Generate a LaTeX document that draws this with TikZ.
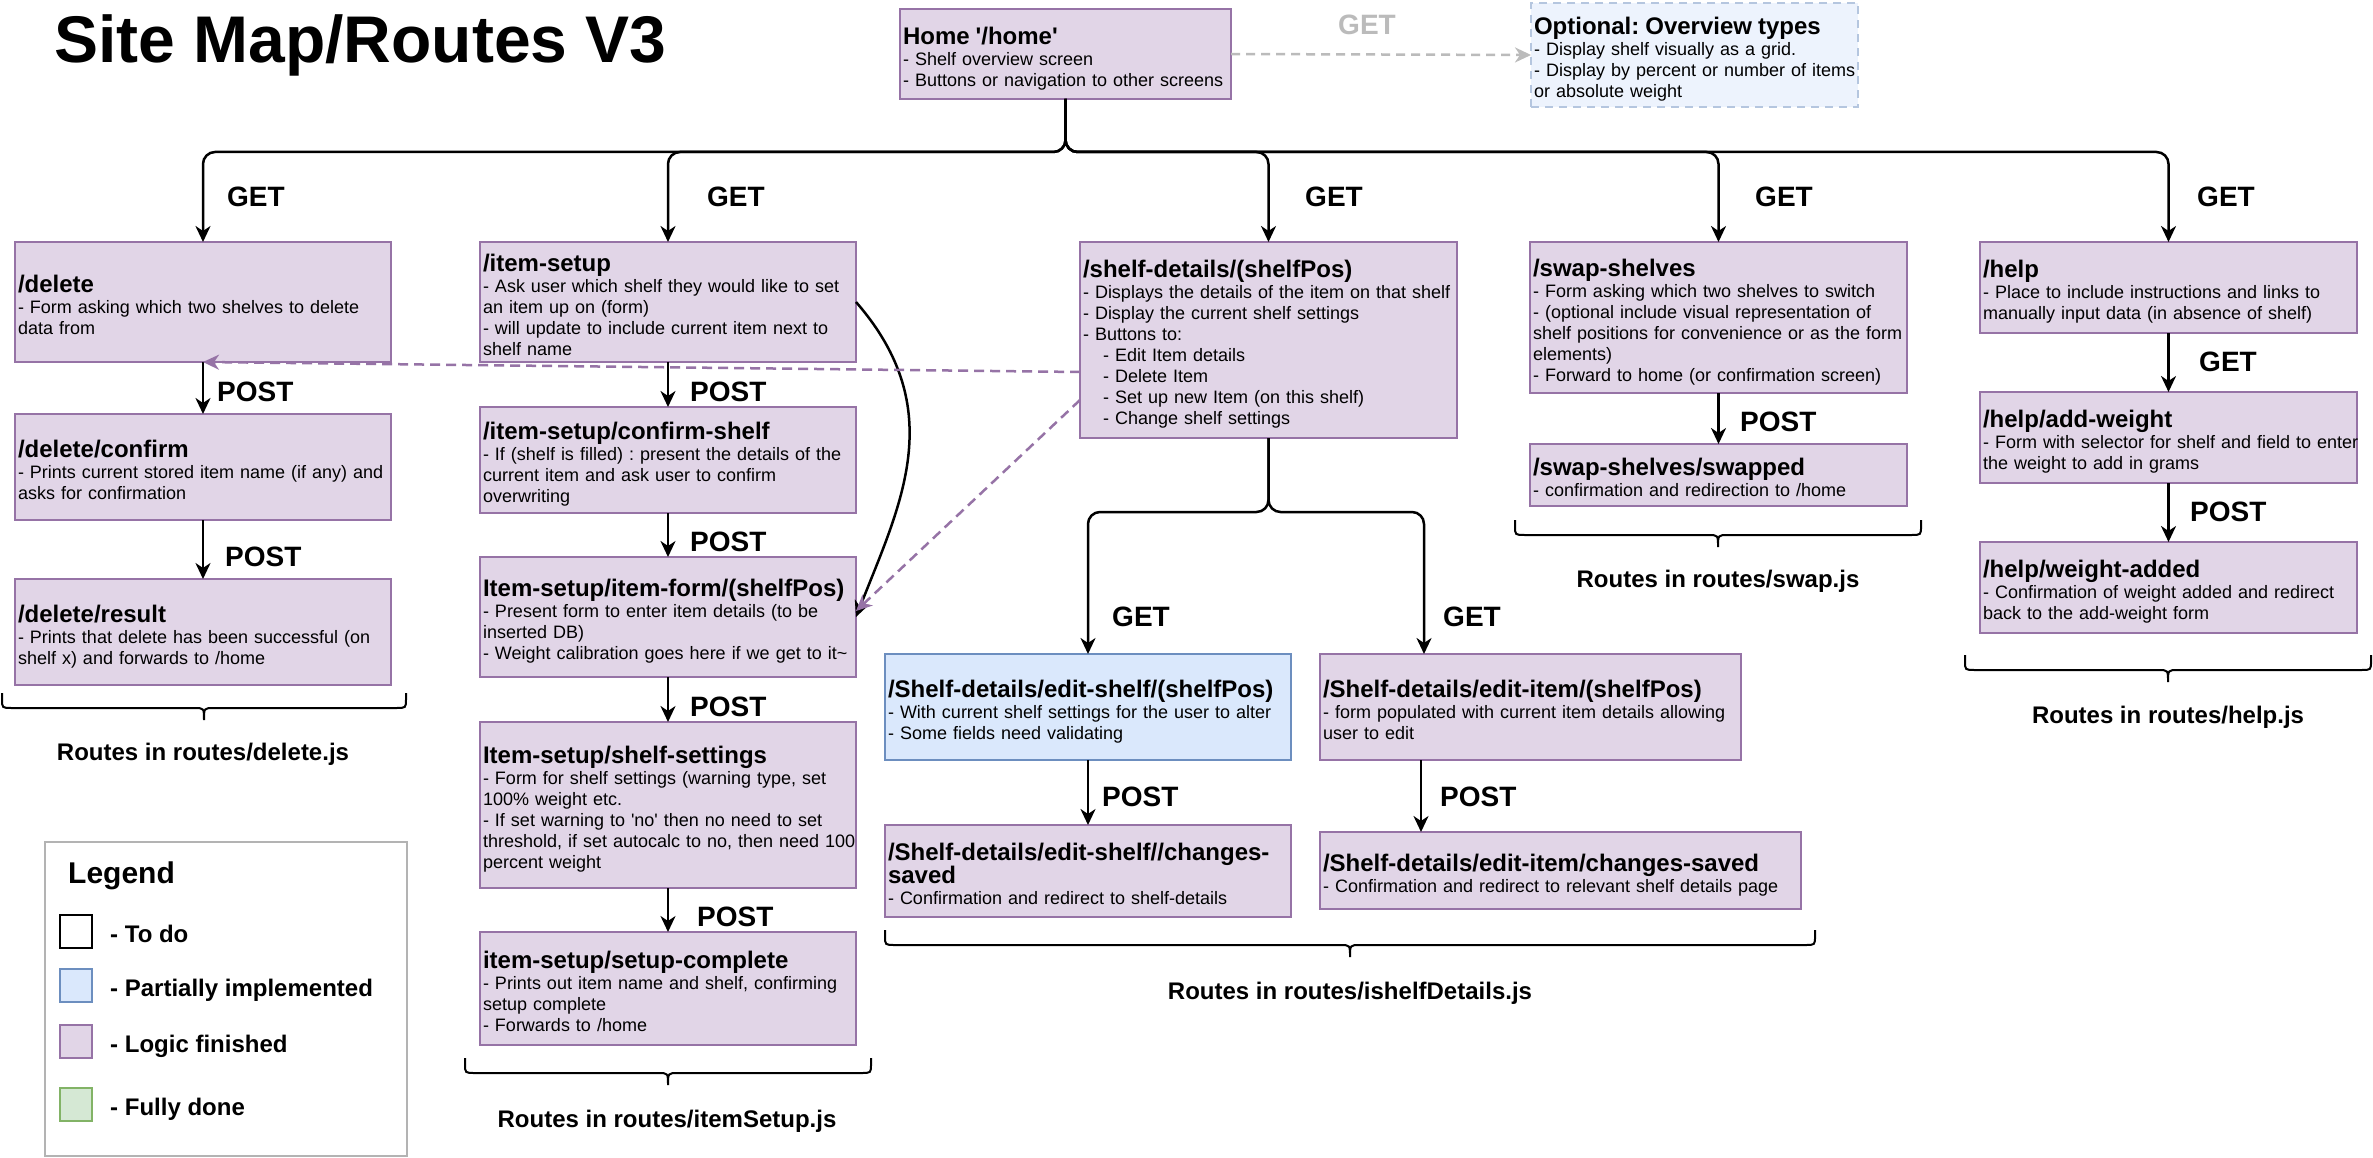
\documentclass[tikz,border=0pt]{standalone}
\usepackage{fontspec}
\setmainfont{Liberation Sans}[Ligatures=TeXOff]
\usetikzlibrary{arrows.meta}
\frenchspacing
\definecolor{pfill}{HTML}{E1D5E7}
\definecolor{pline}{HTML}{9673A6}
\definecolor{bfill}{HTML}{DAE8FC}
\definecolor{bline}{HTML}{6C8EBF}
\definecolor{gfill}{HTML}{D5E8D4}
\definecolor{gline}{HTML}{82B366}
\definecolor{ofill}{HTML}{EDF3FD}
\definecolor{oline}{HTML}{B5C6DF}
\definecolor{garrow}{HTML}{BBBBBB}
\definecolor{lgline}{HTML}{B3B3B3}
\newcommand{\bodyf}{\fontsize{18}{21}\selectfont}
\newcommand{\ttlf}{\fontsize{24}{27}\selectfont\bfseries}
\newcommand{\lblf}{\fontsize{28}{32}\selectfont\bfseries}
\newcommand{\rbx}[2]{\noindent\frenchspacing\begin{tabular}{@{}l@{}}\rule{0pt}{29pt}\ttlf #1\\ #2\end{tabular}}
\newcommand{\rbrc}[3]{%
  \draw[brc] (#1,#3) -- (#1,#3+6) .. controls (#1,#3+15) .. (#1+10,#3+15)
   -- ({(#1+#2)/2-10},#3+15) .. controls ({(#1+#2)/2},#3+15) .. ({(#1+#2)/2},#3+27)
   .. controls ({(#1+#2)/2},#3+15) .. ({(#1+#2)/2+10},#3+15)
   -- (#2-10,#3+15) .. controls (#2,#3+15) .. (#2,#3+6) -- (#2,#3);}
\tikzset{
 rbox/.style={draw=pline, fill=pfill, line width=2.5pt, anchor=north west, inner xsep=3pt, inner ysep=0pt, outer sep=0pt, align=left, font=\bodyf},
 bbox/.style={rbox, draw=bline, fill=bfill},
 conn/.style={draw=black, line width=2.5pt, rounded corners=12pt, -{Stealth[length=16pt,width=15pt,inset=5pt]}},
 dconn/.style={draw=pline, line width=2.5pt, dash pattern=on 10pt off 6pt, -{Stealth[length=16pt,width=15pt,inset=5pt]}},
 lbl/.style={anchor=west, inner sep=0pt, font=\lblf},
 brc/.style={draw=black, line width=2pt},
 rtl/.style={anchor=base, inner sep=0pt, font=\ttlf},
 swatch/.style={line width=2.5pt, anchor=north west, minimum width=32pt, minimum height=33pt, inner sep=0pt, outer sep=0pt},
 lgt/.style={anchor=base west, inner sep=0pt, font=\ttlf},
}
\begin{document}
\begin{tikzpicture}[x=1pt,y=-1pt]
\useasboundingbox (0,0) rectangle (2373,1158);
\fill[white] (0,0) rectangle (2373,1158);

\node[anchor=base west, inner sep=0pt, font=\fontsize{66}{70}\selectfont\bfseries] (title) at (54,63) {Site Map/Routes V3};

% boxes
\node[rbox, text width=325pt, minimum height=90pt] (home) at (900,9) {\rbx{Home '/home'}{- Shelf overview screen\\- Buttons or navigation to other screens}};
\node[rbox, draw=oline, fill=ofill, dash pattern=on 8pt off 6pt, text width=321pt, minimum height=104pt] (opt) at (1531,3) {\rbx{Optional: Overview types}{- Display shelf visually as a grid.\\- Display by percent or number of items\\or absolute weight}};

\node[rbox, text width=370pt, minimum height=120pt] (del) at (15,242) {\rbx{/delete}{- Form asking which two shelves to delete\\data from}};
\node[rbox, text width=370pt, minimum height=106pt] (delc) at (15,414) {\rbx{/delete/confirm}{- Prints current stored item name (if any) and\\asks for confirmation}};
\node[rbox, text width=370pt, minimum height=106pt] (delr) at (15,579) {\rbx{/delete/result}{- Prints that delete has been successful (on\\shelf x) and forwards to /home}};

\node[rbox, text width=370pt, minimum height=120pt] (is) at (480,242) {\rbx{/item-setup}{- Ask user which shelf they would like to set\\an item up on (form)\\- will update to include current item next to\\shelf name}};
\node[rbox, text width=370pt, minimum height=106pt] (isc) at (480,407) {\rbx{/item-setup/confirm-shelf}{- If (shelf is filled) : present the details of the\\current item and ask user to confirm\\overwriting}};
\node[rbox, text width=370pt, minimum height=120pt] (isf) at (480,557) {\rbx{Item-setup/item-form/(shelfPos)}{- Present form to enter item details (to be\\inserted DB)\\- Weight calibration goes here if we get to it\textasciitilde}};
\node[rbox, text width=370pt, minimum height=166pt] (iss) at (480,722) {\rbx{Item-setup/shelf-settings}{- Form for shelf settings (warning type, set\\100\% weight etc.\\- If set warning to 'no' then no need to set\\threshold, if set autocalc to no, then need 100\\percent weight}};
\node[rbox, text width=370pt, minimum height=113pt] (isd) at (480,932) {\rbx{item-setup/setup-complete}{- Prints out item name and shelf, confirming\\setup complete\\- Forwards to /home}};

\node[rbox, text width=371pt, minimum height=196pt] (sd) at (1080,242) {\rbx{/shelf-details/(shelfPos)}{- Displays the details of the item on that shelf\\- Display the current shelf settings\\- Buttons to:\\\hspace*{20pt}- Edit Item details\\\hspace*{20pt}- Delete Item\\\hspace*{20pt}- Set up new Item (on this shelf)\\\hspace*{20pt}- Change shelf settings}};
\node[bbox, text width=400pt, minimum height=106pt] (es) at (885,654) {\rbx{/Shelf-details/edit-shelf/(shelfPos)}{- With current shelf settings for the user to alter\\- Some fields need validating}};
\node[rbox, text width=415pt, minimum height=106pt] (ei) at (1320,654) {\rbx{/Shelf-details/edit-item/(shelfPos)}{- form populated with current item details allowing\\user to edit}};
\node[rbox, text width=400pt, minimum height=92pt] (esc) at (885,825) {\rbx{/Shelf-details/edit-shelf//changes-\\\ttlf saved}{- Confirmation and redirect to shelf-details}};
\node[rbox, text width=475pt, minimum height=77pt] (eic) at (1320,832) {\rbx{/Shelf-details/edit-item/changes-saved}{- Confirmation and redirect to relevant shelf details page}};

\node[rbox, text width=371pt, minimum height=151pt] (sw) at (1530,242) {\rbx{/swap-shelves}{- Form asking which two shelves to switch\\- (optional include visual representation of\\shelf positions for convenience or as the form\\elements)\\- Forward to home (or confirmation screen)}};
\node[rbox, text width=371pt, minimum height=62pt] (sws) at (1530,444) {\rbx{/swap-shelves/swapped}{- confirmation and redirection to /home}};

\node[rbox, text width=371pt, minimum height=91pt] (help) at (1980,242) {\rbx{/help}{- Place to include instructions and links to\\manually input data (in absence of shelf)}};
\node[rbox, text width=371pt, minimum height=91pt] (hadd) at (1980,392) {\rbx{/help/add-weight}{- Form with selector for shelf and field to enter\\the weight to add in grams}};
\node[rbox, text width=371pt, minimum height=91pt] (hwa) at (1980,542) {\rbx{/help/weight-added}{- Confirmation of weight added and redirect\\back to the add-weight form}};

% tree from home
\coordinate (bus) at (0,152);
\draw[conn] (home.south) -- (home.south |- bus) -| (del.north);
\draw[conn] (home.south) -- (home.south |- bus) -| (is.north);
\draw[conn] (home.south) -- (home.south |- bus) -| (sd.north);
\draw[conn] (home.south) -- (home.south |- bus) -| (sw.north);
\draw[conn] (home.south) -- (home.south |- bus) -| (help.north);
\node[lbl] (g1) at (227,197) {GET};
\node[lbl] (g2) at (707,197) {GET};
\node[lbl] (g3) at (1305,197) {GET};
\node[lbl] (g4) at (1755,197) {GET};
\node[lbl] (g5) at (2197,197) {GET};

% optional
\draw[draw=garrow, line width=2.5pt, dash pattern=on 9pt off 6pt, -{Stealth[length=16pt,width=15pt,inset=5pt]}] (home.east) -- (opt.west);
\node[lbl, text=garrow] (gget) at (1338,25) {GET};

% delete column
\draw[conn] (del.south) -- (delc.north);
\draw[conn] (delc.south) -- (delr.north);
\node[lbl] (p1) at (217,392) {POST};
\node[lbl] (p2) at (225,557) {POST};

% item setup column
\draw[conn] (is.south) -- (isc.north);
\draw[conn] (isc.south) -- (isf.north);
\draw[conn] (isf.south) -- (iss.north);
\draw[conn] (iss.south) -- (isd.north);
\node[lbl] (p3) at (690,392) {POST};
\node[lbl] (p4) at (690,542) {POST};
\node[lbl] (p5) at (690,707) {POST};
\node[lbl] (p6) at (697,917) {POST};
\draw[conn] (is.east) .. controls (950,410) and (900,505) .. (isf.east);

% shelf details
\coordinate (split) at (0,512);
\draw[conn] (sd.south) -- (sd.south |- split) -| (es.north);
\draw[conn] (sd.south) -- (sd.south |- split) -| ([xshift=104pt]ei.north west);
\draw[conn] (es.south) -- (esc.north);
\draw[conn] ([xshift=101pt]ei.south west) -- ([xshift=101pt]eic.north west);
\node[lbl] (g6) at (1112,617) {GET};
\node[lbl] (g7) at (1443,617) {GET};
\node[lbl] (p7) at (1102,797) {POST};
\node[lbl] (p8) at (1440,797) {POST};

% dashed links
\draw[dconn] ([yshift=-32pt]sd.west) -- (del.south);
\draw[dconn] ([yshift=-60pt]sd.west) -- ([yshift=6pt]isf.east);

% swap
\draw[conn] (sw.south) -- (sws.north);
\node[lbl] (p9) at (1740,422) {POST};

% help
\draw[conn] (help.south) -- (hadd.north);
\draw[conn] (hadd.south) -- (hwa.north);
\node[lbl] (g8) at (2199,362) {GET};
\node[lbl] (p10) at (2190,512) {POST};

% braces and group labels
\rbrc{2}{406}{693}
\rbrc{465}{871}{1058}
\rbrc{885}{1815}{930}
\rbrc{1515}{1921}{520}
\rbrc{1965}{2371}{655}
\node[rtl] (rdel) at (203,760) {Routes in routes/delete.js};
\node[rtl] (ris) at (667,1127) {Routes in routes/itemSetup.js};
\node[rtl] (rsd) at (1350,999) {Routes in routes/ishelfDetails.js};
\node[rtl] (rsw) at (1718,587) {Routes in routes/swap.js};
\node[rtl] (rhelp) at (2168,723) {Routes in routes/help.js};

% legend
\node[draw=lgline, line width=2.5pt, anchor=north west, minimum width=362pt, minimum height=314pt, inner sep=0pt, outer sep=0pt] (legend) at (45,842) {};
\node[anchor=base west, inner sep=0pt, font=\fontsize{30}{34}\selectfont\bfseries] (legt) at (68,883) {Legend};
\node[swatch, draw=black, fill=white] (s1) at (60,915) {};
\node[swatch, draw=bline, fill=bfill] (s2) at (60,969) {};
\node[swatch, draw=pline, fill=pfill] (s3) at (60,1025) {};
\node[swatch, draw=gline, fill=gfill] (s4) at (60,1088) {};
\node[lgt] (l1) at (110,942) {- To do};
\node[lgt] (l2) at (110,996) {- Partially implemented};
\node[lgt] (l3) at (110,1052) {- Logic finished};
\node[lgt] (l4) at (110,1115) {- Fully done};
\end{tikzpicture}
\end{document}
